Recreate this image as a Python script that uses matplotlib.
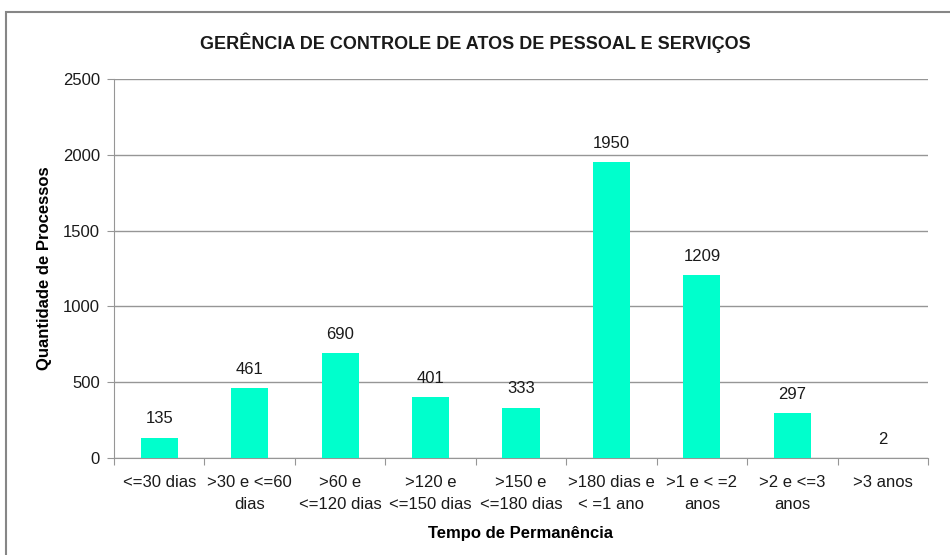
import matplotlib
matplotlib.use('Agg')
import matplotlib.pyplot as plt
from matplotlib.patches import Rectangle

categorias = ['<=30 dias', '>30 e <=60\ndias', '>60 e\n<=120 dias', '>120 e\n<=150 dias',
              '>150 e\n<=180 dias', '>180 dias e\n< =1 ano', '>1 e < =2\nanos',
              '>2 e <=3\nanos', '>3 anos']
quantidades = [135, 461, 690, 401, 333, 1950, 1209, 297, 2]
yticks = [0, 500, 1000, 1500, 2000, 2500]

plt.rcParams['font.family'] = ['Liberation Sans', 'DejaVu Sans']
plt.rcParams['text.color'] = '#1a1a1a'

fig = plt.figure(figsize=(9.5, 5.55), dpi=100)
fig.patch.set_facecolor('white')

# moldura do grafico (sai pela direita e por baixo)
fig.patches.append(Rectangle((6 / 950, -0.1), 1.1, (555 - 12) / 555 + 0.1,
                             transform=fig.transFigure, fill=False,
                             edgecolor='#868686', linewidth=1.5))

ax = fig.add_axes([114 / 950, 1 - 458 / 555, (928 - 114) / 950, (458 - 79) / 555])

x = range(len(categorias))
bars = ax.bar(x, quantidades, width=0.41, color='#00FFCC', zorder=3)

for b, v in zip(bars, quantidades):
    ax.annotate(str(v), (b.get_x() + b.get_width() / 2, v), xytext=(0, 8),
                textcoords='offset points', ha='center', va='bottom',
                fontsize=12, color='#1a1a1a')

cinza = '#969696'
ax.set_xlim(-0.5, len(categorias) - 0.5)
ax.set_ylim(0, 2500)
ax.set_yticks(yticks)
ax.yaxis.grid(True, color=cinza, linewidth=1, zorder=0)
ax.set_xticks([i - 0.5 for i in range(len(categorias) + 1)], minor=False)
ax.set_xticklabels([])
ax.set_xticks(list(x), minor=True)
ax.set_xticklabels(categorias, minor=True, fontsize=12, linespacing=1.6)
ax.tick_params(axis='x', which='minor', length=0, pad=12, labelcolor='#1a1a1a')
ax.tick_params(axis='x', which='major', length=5, color=cinza, direction='out')
ax.tick_params(axis='y', length=5, color=cinza, labelsize=12, pad=5, labelcolor='#1a1a1a')

for s in ['top', 'right']:
    ax.spines[s].set_visible(False)
ax.spines['left'].set_color(cinza)
ax.spines['bottom'].set_color(cinza)

ax.set_xlabel('Tempo de Permanência', fontsize=12, fontweight='bold', labelpad=10)
ax.set_ylabel('Quantidade de Processos', fontsize=12, fontweight='bold', labelpad=8)

fig.text(0.5, 1 - 43 / 555, 'GERÊNCIA DE CONTROLE DE ATOS DE PESSOAL E SERVIÇOS',
         ha='center', va='center', fontsize=13, fontweight='bold')

fig.savefig('out.png', dpi=100)
